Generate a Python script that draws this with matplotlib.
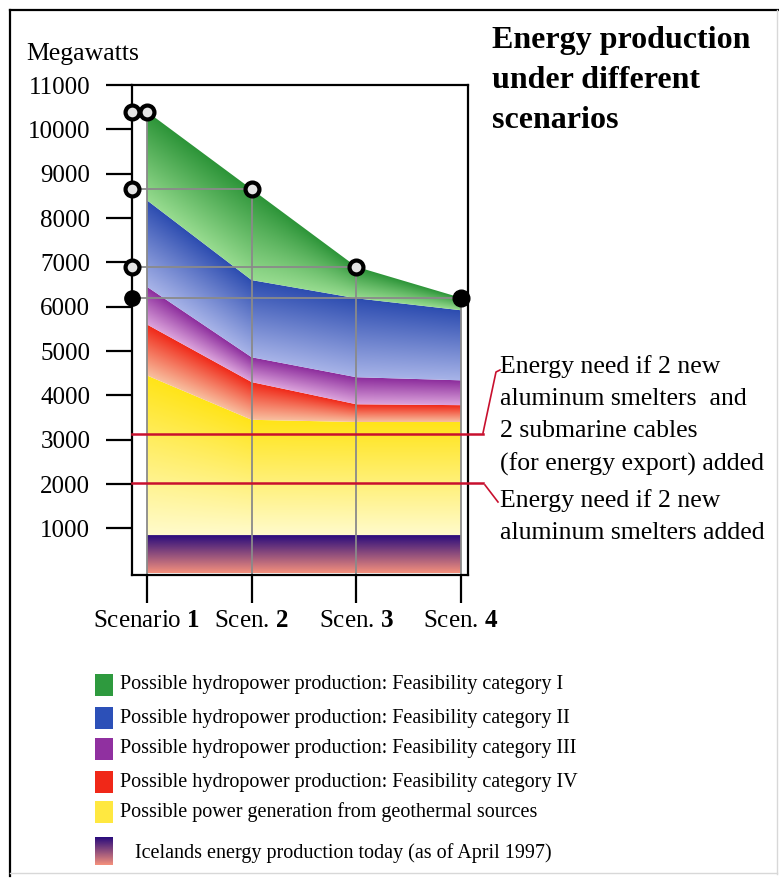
import numpy as np
import matplotlib.pyplot as plt
from matplotlib.colors import to_rgb
from matplotlib.patches import Rectangle

plt.rcParams["font.family"] = ["Liberation Serif", "DejaVu Serif"]
plt.rcParams["mathtext.fontset"] = "custom"
plt.rcParams["mathtext.rm"] = "Liberation Serif"
plt.rcParams["mathtext.bf"] = "Liberation Serif:bold"

# data (MW)
scenarios = [r"Scenario $\mathbf{1}$", r"Scen. $\mathbf{2}$", r"Scen. $\mathbf{3}$", r"Scen. $\mathbf{4}$"]
today = [850, 850, 850, 850]
geothermal = [3600, 2600, 2550, 2550]
hydro_iv = [1150, 850, 400, 380]
hydro_iii = [850, 560, 610, 560]
hydro_ii = [1950, 1740, 1780, 1580]
hydro_i = [2000, 2050, 710, 280]
need_smelters = 2030
need_smelters_cables = 3130
y_ticks = list(range(1000, 11001, 1000))

legend_labels = [
    "Possible hydropower production: Feasibility category I",
    "Possible hydropower production: Feasibility category II",
    "Possible hydropower production: Feasibility category III",
    "Possible hydropower production: Feasibility category IV",
    "Possible power generation from geothermal sources",
]
legend_colors = ["#2e9a3e", "#2c50b8", "#9030a0", "#f02818", "#ffe840"]
today_label = "Icelands energy production today (as of April 1997)"

# gradient colours per layer (top, bottom), bottom layer first
layer_colors = [
    ("#2a0c7c", "#f4907c"),
    ("#ffe418", "#fffbcc"),
    ("#f02818", "#f8c0a0"),
    ("#8c2c9c", "#dca4dc"),
    ("#2c4cb0", "#a8b4e8"),
    ("#2c9438", "#98dc90"),
]
red = "#c8102e"

fig = plt.figure(figsize=(7.79, 8.82), dpi=100)
ax = fig.add_axes([132 / 779, 1 - 575 / 882, (468 - 132) / 779, (575 - 85) / 882])

x = np.arange(len(scenarios))
stack = np.cumsum([today, geothermal, hydro_iv, hydro_iii, hydro_ii, hydro_i], axis=0)
lowers = np.vstack([np.zeros(len(x)), stack[:-1]])
tops = stack[-1]

xg = np.linspace(x[0], x[-1], 600)
yg = np.linspace(0, 11000, 1200)
X, Y = np.meshgrid(xg, yg)
for lo, hi, (ct, cb) in zip(lowers, stack, layer_colors):
    lo_g = np.interp(xg, x, lo)
    hi_g = np.interp(xg, x, hi)
    t = np.clip((Y - lo_g) / (hi_g - lo_g), 0, 1)[..., None]
    rgb = np.array(to_rgb(cb)) + t * (np.array(to_rgb(ct)) - np.array(to_rgb(cb)))
    poly = ax.fill_between(x, lo, hi, color="none", lw=0)
    im = ax.imshow(rgb, extent=[x[0], x[-1], 0, 11000], origin="lower",
                   aspect="auto", interpolation="bilinear", zorder=1)
    im.set_clip_path(poly.get_paths()[0], transform=ax.transData)

xmin, xmax = -0.143, 3.066
ymin, ymax = -50, 11000

# reference lines from the axis to each scenario total
for xi, top in zip(x, tops):
    ax.plot([xmin, xi], [top, top], color="#8a8a8a", lw=1.3, zorder=2)
    ax.plot([xi, xi], [ymin, top], color="#8a8a8a", lw=1.3, zorder=2)

# energy need lines
for need in [need_smelters_cables, need_smelters]:
    ax.plot([xmin, 3.21], [need, need], color=red, lw=1.8, clip_on=False, zorder=4)

# markers
ax.plot(x[:-1], tops[:-1], "o", ms=10, mfc="#e4e4e4", mec="black", mew=3, clip_on=False, zorder=6)
ax.plot(x[-1:], tops[-1:], "o", ms=12, color="black", clip_on=False, zorder=6)
ax.plot([xmin] * (len(x) - 1), tops[:-1], "o", ms=10, mfc="#e4e4e4", mec="black", mew=3, clip_on=False, zorder=6)
ax.plot([xmin], tops[-1:], "o", ms=11, color="black", clip_on=False, zorder=6)

ax.set_xlim(xmin, xmax)
ax.set_ylim(ymin, ymax)
ax.set_yticks(y_ticks)
ax.set_xticks(x)
ax.set_xticklabels(scenarios)
ax.tick_params(axis="y", length=19, width=1.6, pad=11, labelsize=18)
ax.tick_params(axis="x", length=20, width=1.6, pad=5, labelsize=18)
for s in ax.spines.values():
    s.set_linewidth(1.6)

# overlay in pixel coordinates for texts, leaders, legend and frame
ov = fig.add_axes([0, 0, 1, 1], zorder=3)
ov.set_xlim(0, 779)
ov.set_ylim(882, 0)
ov.axis("off")

ov.plot([10, 10], [10, 876], color="black", lw=1.6)
ov.plot([10, 779], [10, 10], color="black", lw=1.6)
ov.plot([777, 777], [10, 874], color="#d8d8d8", lw=1)
ov.plot([10, 777], [873, 873], color="#d8d8d8", lw=1)

ov.text(492, 26, "Energy production\nunder different\nscenarios", fontsize=23,
        fontweight="bold", va="top", ha="left", linespacing=1.5)
ov.text(26, 54, "Megawatts", fontsize=18.5, va="center", ha="left")

ov.text(500, 355, "Energy need if 2 new\naluminum smelters  and\n2 submarine cables\n(for energy export) added",
        fontsize=18.5, va="top", ha="left", linespacing=1.58)
ov.text(500, 489, "Energy need if 2 new\naluminum smelters added",
        fontsize=18.5, va="top", ha="left", linespacing=1.58)
ov.plot([483, 496, 500], [433, 372, 370], color=red, lw=1.2)
ov.plot([485, 498], [485, 502], color=red, lw=1.2)

# legend
row_y = [685, 718, 749, 782, 812]
for yy, lab, col in zip(row_y, legend_labels, legend_colors):
    ov.add_patch(Rectangle((95, yy - 11), 18, 22, color=col, lw=0))
    ov.text(120, yy, lab, fontsize=14.5, va="center", ha="left")
grad = np.linspace(0, 1, 50)[:, None, None]
c_top, c_bot = (np.array(to_rgb(c)) for c in layer_colors[0])
swatch = c_top + grad * (c_bot - c_top)
ov.imshow(swatch, extent=[95, 113, 865, 837], aspect="auto", interpolation="bilinear")
ov.set_xlim(0, 779)
ov.set_ylim(882, 0)
ov.text(135, 853, today_label, fontsize=14.5, va="center", ha="left")

fig.savefig("out.png", dpi=100)
